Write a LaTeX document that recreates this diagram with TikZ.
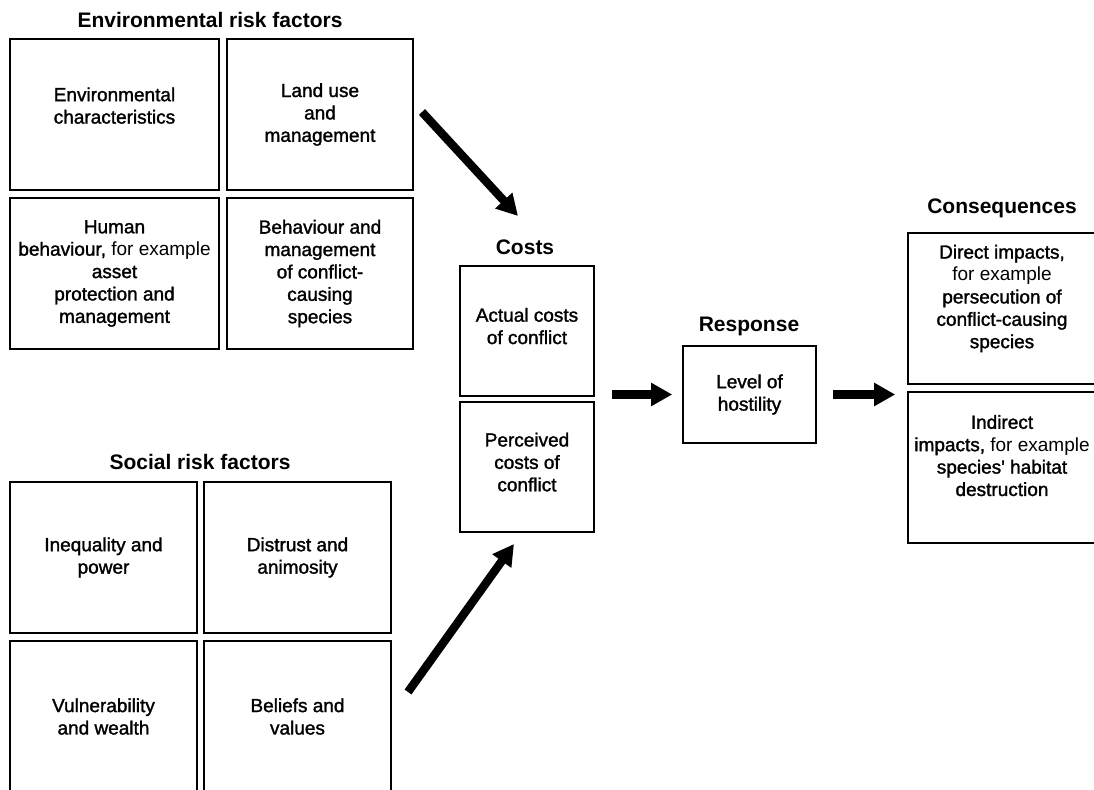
\documentclass[tikz,border=0pt]{standalone}
\usepackage{fontspec}
\setmainfont{Liberation Sans}
\newfontfamily\medfont[FakeBold=1.5]{Liberation Sans}
\usetikzlibrary{arrows.meta}
\tikzset{
  factor/.style={draw, line width=0.8pt, align=center, inner sep=0pt,
    font=\medfont\fontsize{9.5}{11.2}\selectfont},
  heading/.style={font=\bfseries\fontsize{10.5}{12}\selectfont},
  bigarrow/.style={line width=4.2pt, -{Triangle[length=10.5pt,width=11pt]}}
}
\newcommand{\plain}[1]{{\normalfont #1}}
\begin{document}
\begin{tikzpicture}[x=0.5pt, y=-0.5pt]
\useasboundingbox (0,0) rectangle (1094,790);
\clip (0,0) rectangle (1094,790);
% environmental risk factors
\node[heading] (envtitle) at (210,20) {Environmental risk factors};
\node[factor, minimum width=104.5pt, minimum height=75.5pt, text depth=9pt] (env1) at (114.5,114.5) {Environmental\\characteristics};
\node[factor, minimum width=93pt, minimum height=75.5pt] (env2) at (320,114.5) {Land use\\and\\management};
\node[factor, minimum width=104.5pt, minimum height=75.5pt] (env3) at (114.5,273.5) {Human\\behaviour,\plain{ for example}\\asset\\protection and\\management};
\node[factor, minimum width=93pt, minimum height=75.5pt] (env4) at (320,273.5) {Behaviour and\\management\\of conflict-\\causing\\species};
% social risk factors
\node[heading] (soctitle) at (200,462) {Social risk factors};
\node[factor, minimum width=93.5pt, minimum height=75.5pt] (soc1) at (103.5,557.5) {Inequality and\\power};
\node[factor, minimum width=93.5pt, minimum height=75.5pt] (soc2) at (297.5,557.5) {Distrust and\\animosity};
\node[factor, minimum width=93.5pt, minimum height=75.5pt] (soc3) at (103.5,716.5) {Vulnerability\\and wealth};
\node[factor, minimum width=93.5pt, minimum height=75.5pt] (soc4) at (297.5,716.5) {Beliefs and\\values};
% costs
\node[heading] (costtitle) at (525,247) {Costs};
\node[factor, minimum width=67pt, minimum height=65pt, text depth=5pt] (cost1) at (527,331) {Actual costs\\of conflict};
\node[factor, minimum width=67pt, minimum height=65pt, text depth=5pt] (cost2) at (527,467) {Perceived\\costs of\\conflict};
% response
\node[heading] (resptitle) at (749,326) {Response};
\node[factor, minimum width=66.5pt, minimum height=48.5pt] (resp) at (749.5,394.5) {Level of\\hostility};
% consequences
\node[heading] (constitle) at (1002,208) {Consequences};
\node[factor, minimum width=94pt, minimum height=75.5pt, text depth=12pt] (cons1) at (1002,308.5) {Direct impacts,\\\plain{for example}\\persecution of\\conflict-causing\\species};
\node[factor, minimum width=94pt, minimum height=75.5pt, text depth=12pt] (cons2) at (1002,467.5) {Indirect\\impacts,\plain{ for example}\\species' habitat\\destruction};
% arrows
\coordinate (envtail) at (422,112);
\coordinate (envhead) at (518,216);
\coordinate (soctail) at (408,692);
\coordinate (sochead) at (514,544);
\draw[bigarrow] (envtail) -- (envhead);
\draw[bigarrow] (soctail) -- (sochead);
\draw[bigarrow] ([xshift=-35pt]resp.west) -- ([xshift=-5pt]resp.west);
\draw[bigarrow] ([xshift=8pt]resp.east) -- ([xshift=-6pt]resp.east -| cons1.west);
\end{tikzpicture}
\end{document}
